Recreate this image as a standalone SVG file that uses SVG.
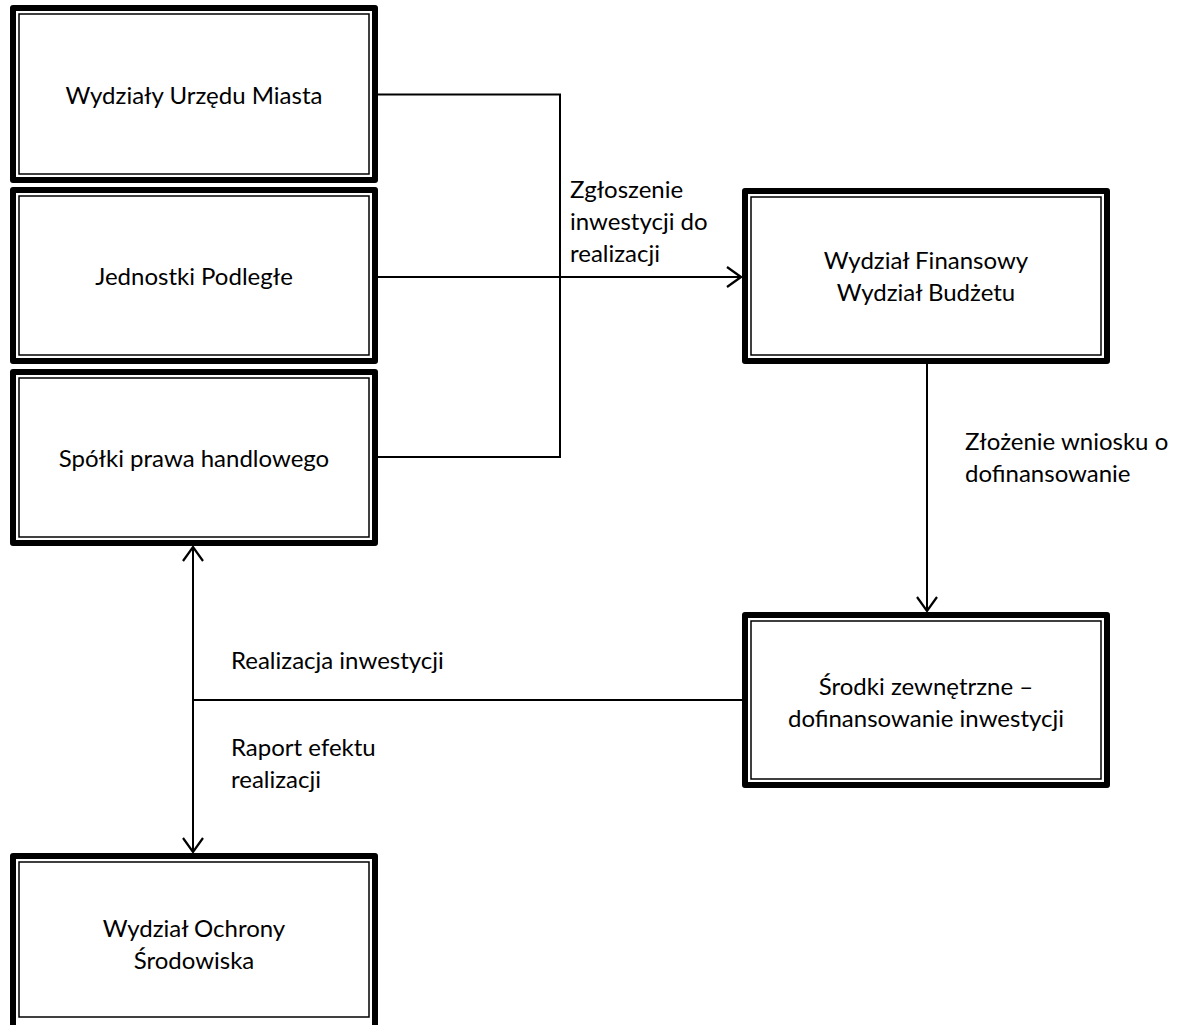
<svg xmlns="http://www.w3.org/2000/svg" width="1181" height="1025" viewBox="0 0 1181 1025">
<style>
.outer{fill:#fff;stroke:#000;stroke-width:6;stroke-linejoin:round}
.inner{fill:none;stroke:#000;stroke-width:1.5}
.t{font-family:Lato,"Liberation Sans",sans-serif;font-size:24px;fill:#000}
.c{text-anchor:middle}
.ln{fill:none;stroke:#000;stroke-width:2}
</style>
<defs>
<marker id="arr" viewBox="0 0 16 22" refX="15" refY="11" markerWidth="16" markerHeight="22" markerUnits="userSpaceOnUse" orient="auto-start-reverse">
<path d="M1,1 L15,11 L1,21" fill="none" stroke="#000" stroke-width="2.2"/>
</marker>
</defs>
<rect width="1181" height="1025" fill="#fff"/>
<g id="connectors">
<polyline class="ln" points="378,94.5 560,94.5 560,457 378,457"/>
<line class="ln" x1="378" y1="277" x2="741" y2="277" marker-end="url(#arr)"/>
<line class="ln" x1="927" y1="364" x2="927" y2="611" marker-end="url(#arr)"/>
<line class="ln" x1="742" y1="700" x2="193" y2="700"/>
<line class="ln" x1="193" y1="547" x2="193" y2="852" marker-start="url(#arr)" marker-end="url(#arr)"/>
<text class="t" x="570" y="198">Zgłoszenie</text>
<text class="t" x="570" y="230">inwestycji do</text>
<text class="t" x="570" y="262">realizacji</text>
<text class="t" x="965" y="450">Złożenie wniosku o</text>
<text class="t" x="965" y="482">dofinansowanie</text>
<text class="t" x="231" y="669">Realizacja inwestycji</text>
<text class="t" x="231" y="756">Raport efektu</text>
<text class="t" x="231" y="788">realizacji</text>
</g>
<g id="n1">
<rect class="outer" x="13" y="8" width="362" height="172"/>
<rect class="inner" x="19" y="14" width="350" height="160"/>
<text class="t c" x="194" y="104">Wydziały Urzędu Miasta</text>
</g>
<g id="n2">
<rect class="outer" x="13" y="190" width="362" height="171"/>
<rect class="inner" x="19" y="196" width="350" height="159"/>
<text class="t c" x="194" y="285">Jednostki Podległe</text>
</g>
<g id="n3">
<rect class="outer" x="13" y="372" width="362" height="171"/>
<rect class="inner" x="19" y="378" width="350" height="159"/>
<text class="t c" x="194" y="467">Spółki prawa handlowego</text>
</g>
<g id="n4">
<rect class="outer" x="745" y="191" width="362" height="170"/>
<rect class="inner" x="751" y="197" width="350" height="158"/>
<text class="t c" x="926" y="269">Wydział Finansowy</text>
<text class="t c" x="926" y="301">Wydział Budżetu</text>
</g>
<g id="n5">
<rect class="outer" x="745" y="615" width="362" height="170"/>
<rect class="inner" x="751" y="621" width="350" height="158"/>
<text class="t c" x="926" y="695">Środki zewnętrzne –</text>
<text class="t c" x="926" y="727">dofinansowanie inwestycji</text>
</g>
<g id="n6">
<rect class="outer" x="13" y="856" width="362" height="176"/>
<rect class="inner" x="19" y="862" width="350" height="155"/>
<text class="t c" x="194" y="937">Wydział Ochrony</text>
<text class="t c" x="194" y="969">Środowiska</text>
</g>
</svg>
